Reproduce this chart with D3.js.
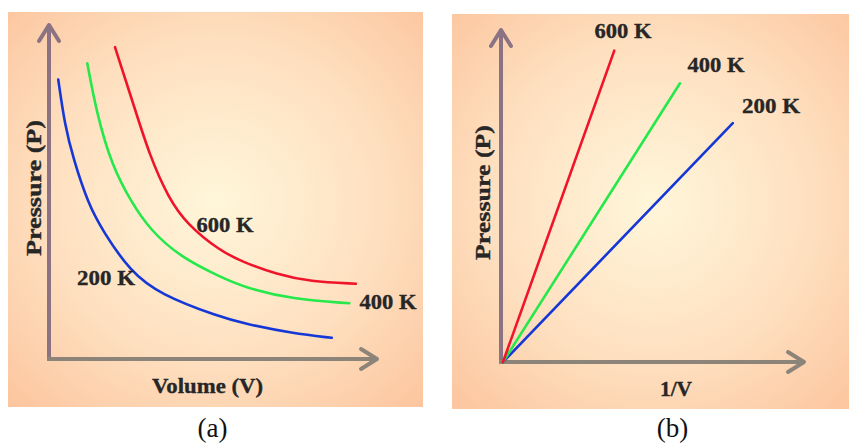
<!DOCTYPE html>
<html><head><meta charset="utf-8">
<script src="https://cdn.jsdelivr.net/npm/d3@7"></script>
<style>body{margin:0;background:#fff}svg{display:block}</style>
</head><body>
<svg id="c" width="849" height="446"></svg>
<script>
// ---- Data ----
const temps = ["200 K", "400 K", "600 K"];
const colors = ["#1537d6", "#25e84a", "#f0142a"];
// Panel (a): isotherms P vs V (arbitrary units 0-100)
const vol200 = [2.8, 4.8, 7.4, 11.9, 16.5, 24.5, 33.6, 51.8, 58.9, 74.0, 85.7];
const pre200 = [83.2, 69.6, 59.5, 46.1, 37.8, 26.2, 19.2, 12.5, 10.6, 7.6, 6.3];
const vol400 = [11.6, 14.5, 19.0, 25.1, 30.6, 39.7, 51.8, 58.9, 74.0, 91.0];
const pre400 = [88.0, 72.9, 57.7, 46.4, 38.5, 30.4, 24.5, 21.4, 17.7, 16.6];
const vol600 = [20.0, 25.5, 30.6, 36.2, 41.7, 51.8, 58.9, 69.0, 79.1, 93.0];
const pre600 = [92.8, 76.1, 60.2, 48.0, 40.2, 32.2, 28.8, 25.2, 23.0, 22.4];
// Panel (b): P vs 1/V straight lines from origin
const invV = [[0, 76.6], [0, 59.0], [0, 37.1]];
const presB = [[0, 79.6], [0, 92.9], [0, 103.8]];
const panelTitles = ["(a)", "(b)"];
const xTitles = ["Volume (V)", "1/V"];
const yTitle = "Pressure (P)";

const svg = d3.select("#c");
const defs = svg.append("defs");
const grad = defs.append("radialGradient").attr("id", "bg")
  .attr("cx", "50%").attr("cy", "48%").attr("r", "72%");
grad.append("stop").attr("offset", "0%").attr("stop-color", "#fff6da");
grad.append("stop").attr("offset", "55%").attr("stop-color", "#fee0c0");
grad.append("stop").attr("offset", "100%").attr("stop-color", "#fcc59e");

const FONT = "'Liberation Serif','Times New Roman',serif";
const txt = "#262626";

function panelBg(x, y, w, h) {
  svg.append("rect").attr("x", x).attr("y", y).attr("width", w).attr("height", h)
    .attr("fill", "url(#bg)");
}
function axes(xs, ys) {
  const x0 = xs(0), y0 = ys(0), x1 = xs.range()[1], y1 = ys.range()[1];
  svg.append("line").attr("x1", x0).attr("y1", y0 + 2).attr("x2", x0).attr("y2", y1 + 1)
    .attr("stroke", "#8b7383").attr("stroke-width", 4);
  svg.append("path").attr("d", `M${x0-10},${y1+18}L${x0},${y1+2}L${x0+10},${y1+18}`)
    .attr("fill", "none").attr("stroke", "#8b7383").attr("stroke-width", 4)
    .attr("stroke-linecap", "round").attr("stroke-linejoin", "round");
  svg.append("line").attr("x1", x0 - 2).attr("y1", y0).attr("x2", x1 - 1).attr("y2", y0)
    .attr("stroke", "#8c8479").attr("stroke-width", 4);
  svg.append("path").attr("d", `M${x1-18},${y0-10}L${x1-2},${y0}L${x1-18},${y0+10}`)
    .attr("fill", "none").attr("stroke", "#8c8479").attr("stroke-width", 4)
    .attr("stroke-linecap", "round").attr("stroke-linejoin", "round");
}
function label(t, x, y, opts = {}) {
  const el = svg.append("text").attr("x", x).attr("y", y).text(t)
    .attr("font-family", FONT).attr("font-size", opts.size || 22)
    .attr("font-weight", opts.weight || "bold").attr("fill", opts.fill || txt)
    .attr("text-anchor", opts.anchor || "middle");
  if (!opts.weight) el.attr("stroke", txt).attr("stroke-width", 0.35);
  if (opts.rotate) el.attr("transform", `rotate(-90,${x},${y})`);
  if (opts.len) el.attr("textLength", opts.len).attr("lengthAdjust", "spacingAndGlyphs");
  return el;
}

// ---------- Panel (a) ----------
panelBg(8, 12, 415, 395);
const xa = d3.scaleLinear().domain([0, 100]).range([49, 379]);
const ya = d3.scaleLinear().domain([0, 100]).range([359, 23]);
axes(xa, ya);
const lineA = d3.line().x(d => xa(d[0])).y(d => ya(d[1])).curve(d3.curveBasis);
const seriesA = [
  d3.zip(vol200, pre200), d3.zip(vol400, pre400), d3.zip(vol600, pre600)
];
seriesA.forEach((s, i) => {
  svg.append("path").attr("d", lineA(s)).attr("fill", "none")
    .attr("stroke", colors[i]).attr("stroke-width", 2.6).attr("stroke-linecap", "round");
});
label(temps[2], 225, 232, { len: 57 });
label(temps[0], 106, 285, { len: 58 });
label(temps[1], 388, 309, { len: 57 });
label(xTitles[0], 207.5, 393, { len: 111 });
label(yTitle, 41, 188, { rotate: true, len: 136 });
label(panelTitles[0], 212.5, 437, { weight: "normal", size: 27, fill: "#111" });

// ---------- Panel (b) ----------
panelBg(452, 14, 400, 395);
const xb = d3.scaleLinear().domain([0, 100]).range([501, 806]);
const yb = d3.scaleLinear().domain([0, 100]).range([362, 28]);
const xbl = d3.scaleLinear().domain([0, 100]).range([503, 803]);
const ybl = d3.scaleLinear().domain([0, 100]).range([362, 62]);
axes(xb, yb);
const lineB = d3.line().x(d => xbl(d[0])).y(d => ybl(d[1]));
invV.forEach((xs, i) => {
  svg.append("path").attr("d", lineB(d3.zip(xs, presB[i]))).attr("fill", "none")
    .attr("stroke", colors[i]).attr("stroke-width", 2.6).attr("stroke-linecap", "round");
});
label(temps[2], 623, 38, { len: 57 });
label(temps[1], 716, 72, { len: 57 });
label(temps[0], 771, 113, { len: 58 });
label(xTitles[1], 676, 396, { len: 32 });
label(yTitle, 490, 192.5, { rotate: true, len: 135 });
label(panelTitles[1], 672.5, 437, { weight: "normal", size: 27, fill: "#111" });
</script>
</body></html>
